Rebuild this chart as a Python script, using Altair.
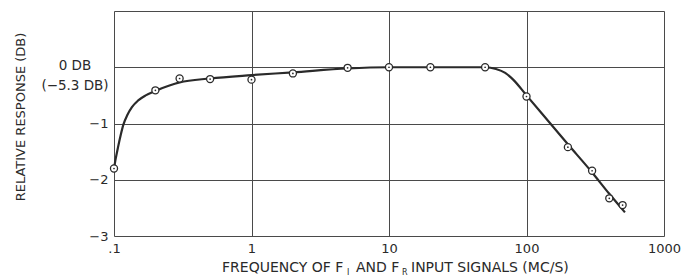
import altair as alt
import pandas as pd

# measured points (frequency MC/S, relative response dB)
point_freq = [0.1, 0.2, 0.3, 0.5, 1, 2, 5, 10, 20, 50, 100, 200, 300, 400, 500]
point_db = [-1.80, -0.41, -0.20, -0.21, -0.22, -0.11, -0.01, 0.0, 0.0, 0.0, -0.52, -1.42, -1.84, -2.33, -2.45]

# drawn smooth curve
curve_freq = [0.1, 0.103, 0.107, 0.112, 0.117, 0.125, 0.135, 0.15, 0.17, 0.2, 0.25, 0.3, 0.5, 1, 2, 5, 10, 20, 50, 60, 70, 80, 100, 200, 300, 400, 520]
curve_db = [-1.80, -1.62, -1.42, -1.20, -1.02, -0.85, -0.71, -0.59, -0.50, -0.42, -0.33, -0.27, -0.20, -0.14, -0.09, -0.02, 0.0, 0.0, 0.0, -0.03, -0.10, -0.22, -0.50, -1.37, -1.87, -2.25, -2.58]

x_ticks = [0.1, 1, 10, 100, 1000]
y_ticks = [-3, -2, -1, 0, 1]

FONT = "DejaVu Sans"
INK = "#2a2a2a"

pts = pd.DataFrame({"f": point_freq, "db": point_db})
crv = pd.DataFrame({"f": curve_freq, "db": curve_db})

xs = alt.Scale(type="log", domain=[0.1, 1000], nice=False)
ys = alt.Scale(domain=[-3, 1], nice=False, zero=False)

xaxis = alt.Axis(values=x_ticks, title=None, grid=True, ticks=False, domain=False,
                 labelExpr="datum.value == 0.1 ? '.1' : format(datum.value, 'd')",
                 labelFont=FONT, labelFontSize=13, labelColor=INK, labelPadding=6,
                 gridColor="#4a4a4a", gridWidth=1, labelFlush=False)
yaxis = alt.Axis(values=y_ticks, title=None, grid=True, ticks=False, domain=False,
                 labelExpr="datum.value >= 0 ? '' : format(datum.value, 'd')",
                 labelFont=FONT, labelFontSize=13, labelColor=INK, labelPadding=6,
                 gridColor="#4a4a4a", gridWidth=1)

line = alt.Chart(crv).mark_line(color=INK, strokeWidth=2.2, interpolate="monotone").encode(
    x=alt.X("f:Q", scale=xs, axis=xaxis),
    y=alt.Y("db:Q", scale=ys, axis=yaxis),
)
circles = alt.Chart(pts).mark_point(shape="circle", size=50, filled=True, fill="white",
                                    stroke=INK, strokeWidth=1.3, opacity=1).encode(
    x=alt.X("f:Q", scale=xs), y=alt.Y("db:Q", scale=ys))
dots = alt.Chart(pts).mark_point(shape="circle", size=3, filled=True, color=INK, opacity=1).encode(
    x=alt.X("f:Q", scale=xs), y=alt.Y("db:Q", scale=ys))


def label(text, x, y, size=13, align="left", angle=0):
    kw = dict(font=FONT, fontSize=size, color=INK, align=align, baseline="alphabetic")
    if angle:
        kw["angle"] = angle
        kw["baseline"] = "middle"
        kw["align"] = "center"
    return alt.Chart(pd.DataFrame({"t": [text]})).mark_text(**kw).encode(
        x=alt.value(x), y=alt.value(y), text="t:N")


labels = [
    label("0 DB", -39, 59, size=13.5, align="center"),
    label("(\u22125.3 DB)", -39, 79, size=13.5, align="center"),
    label("RELATIVE RESPONSE (DB)", -93, 106, size=13, angle=270),
    label("FREQUENCY OF F", 108, 261, size=14),
    label("I", 233, 264, size=8),
    label("AND F", 242, 261, size=14),
    label("R", 288, 264, size=8),
    label("INPUT SIGNALS (MC/S)", 297, 261, size=14),
]

chart = alt.layer(line, circles, dots, *labels).properties(
    width=550, height=225,
    autosize=alt.AutoSizeParams(type="none"),
    padding={"left": 106, "top": 3, "right": 17, "bottom": 40},
).configure_view(stroke="#222222", strokeWidth=1.3).configure(background="white")

chart.save("out.html", embed_options={"renderer": "svg", "actions": False})
